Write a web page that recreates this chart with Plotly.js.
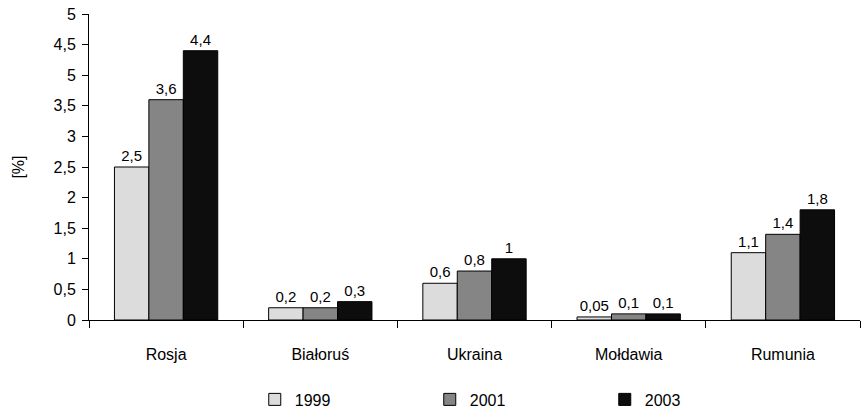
<!DOCTYPE html>
<html>
<head>
<meta charset="utf-8">
<script src="https://cdn.plot.ly/plotly-3.0.1.min.js"></script>
<style>html,body{margin:0;padding:0;background:#fff;}#chart{width:862px;height:417px;}</style>
</head>
<body>
<div id="chart"></div>
<script>
const categories = ["Rosja", "Białoruś", "Ukraina", "Mołdawia", "Rumunia"];
const series1999 = [2.5, 0.2, 0.6, 0.05, 1.1];
const series2001 = [3.6, 0.2, 0.8, 0.1, 1.4];
const series2003 = [4.4, 0.3, 1.0, 0.1, 1.8];
const seriesNames = ["1999", "2001", "2003"];
const tickValues = [0, 0.5, 1, 1.5, 2, 2.5, 3, 3.5, 4, 4.5, 5];
const tickLabels = ["0", "0,5", "1", "1,5", "2", "2,5", "3", "3,5", "5", "4,5", "5"];

const colors = ["#dcdcdc", "#858585", "#0d0d0d"];
const allSeries = [series1999, series2001, series2003];

const traces = allSeries.map((vals, i) => ({
  type: "bar",
  name: seriesNames[i],
  x: categories,
  y: vals,
  texttemplate: "%{y}",
  textposition: "outside",
  constraintext: "none",
  textfont: {family: "Liberation Sans, Arial, sans-serif", size: 15, color: "#000"},
  cliponaxis: false,
  marker: {color: colors[i], line: {color: "#000", width: 1}},
  hoverinfo: "skip"
}));

const layout = {
  width: 862, height: 417,
  separators: ", ",
  margin: {l: 89, r: 2, t: 14, b: 96},
  paper_bgcolor: "#fff", plot_bgcolor: "#fff",
  font: {family: "Liberation Sans, Arial, sans-serif", size: 16, color: "#000"},
  barmode: "group",
  bargap: 0.33,
  bargroupgap: 0,
  showlegend: true,
  legend: {
    orientation: "h",
    x: 0.215, xanchor: "left",
    y: -0.311, yanchor: "bottom",
    entrywidth: 130, entrywidthmode: "pixels",
    font: {size: 16},
    traceorder: "normal"
  },
  xaxis: {
    type: "category",
    showline: true, linecolor: "#000", linewidth: 1,
    ticks: "outside", tickson: "boundaries", ticklen: 7, tickcolor: "#000",
    tickfont: {size: 16},
    ticklabelstandoff: 20,
    showgrid: false, zeroline: false,
    fixedrange: true
  },
  yaxis: {
    range: [0, 5],
    tickvals: tickValues,
    ticktext: tickLabels,
    showline: true, linecolor: "#000", linewidth: 1,
    ticks: "outside", ticklen: 6, tickcolor: "#000",
    tickfont: {size: 16},
    ticklabelstandoff: 3,
    showgrid: false, zeroline: false,
    title: {text: "[%]", font: {size: 16}, standoff: 24},
    fixedrange: true
  }
};

Plotly.newPlot("chart", traces, layout, {displayModeBar: false, staticPlot: true});
</script>
</body>
</html>
